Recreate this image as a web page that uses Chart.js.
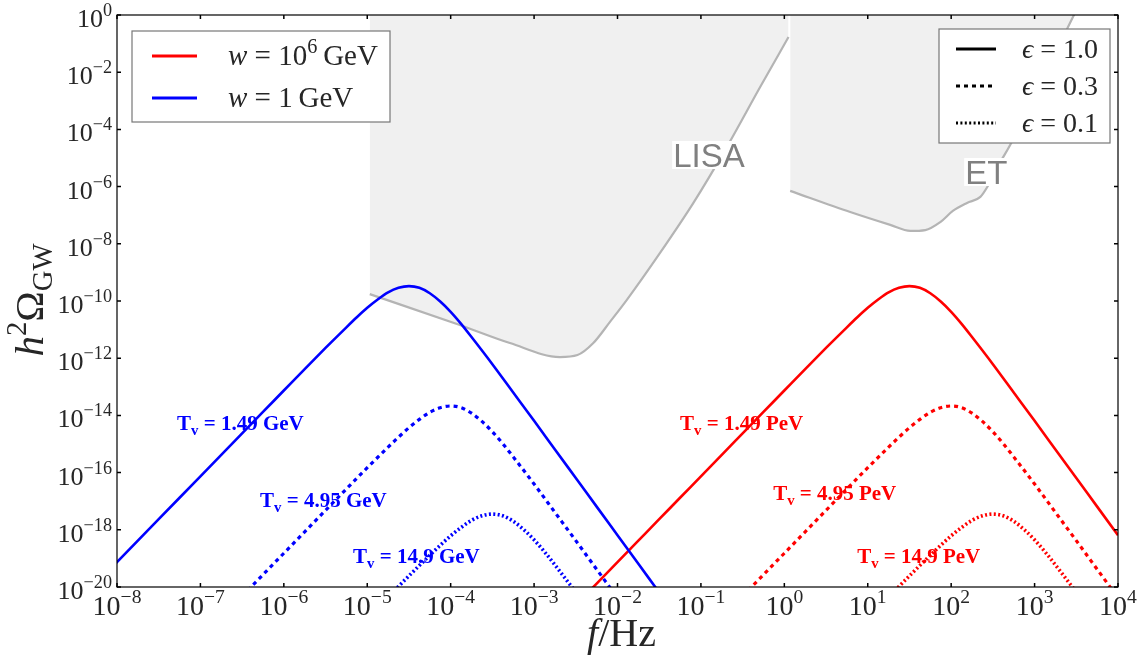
<!DOCTYPE html>
<html><head><meta charset="utf-8">
<script src="https://cdn.jsdelivr.net/npm/chart.js@4/dist/chart.umd.min.js"></script>
<style>html,body{margin:0;padding:0;background:#fff}#wrap{width:1138px;height:656px}</style>
</head><body><div id="wrap"><canvas id="c" width="1138" height="656"></canvas></div>
<script>
// ---- data: log10(f / Hz) and log10(h^2 Omega_GW) ----
// w = 1 GeV (blue)
const blueSolidLogF = [-8.25,-8.0,-7.75,-7.5,-7.25,-7.0,-6.75,-6.5,-6.25,-6.0,-5.75,-5.5,-5.25,-5.125,-5.0,-4.875,-4.75,-4.625,-4.5,-4.375,-4.25,-4.125,-4.0,-3.875,-3.75,-3.5,-3.25,-3.0,-2.75,-2.5,-2.25,-2.0,-1.75,-1.5];
const blueSolidLogOmega = [-19.88,-19.13,-18.38,-17.63,-16.88,-16.13,-15.38,-14.63,-13.88,-13.13,-12.38,-11.64,-10.92,-10.57,-10.24,-9.95,-9.70,-9.54,-9.48,-9.54,-9.73,-10.02,-10.38,-10.80,-11.26,-12.21,-13.20,-14.19,-15.19,-16.19,-17.19,-18.19,-19.19,-20.19];
const blueDashLogF = [-6.5,-6.25,-6.0,-5.75,-5.5,-5.25,-5.0,-4.75,-4.625,-4.5,-4.375,-4.25,-4.125,-4.0,-3.875,-3.75,-3.625,-3.5,-3.375,-3.25,-3.0,-2.75,-2.5,-2.25,-2.0];
const blueDashLogOmega = [-20.32,-19.57,-18.82,-18.07,-17.32,-16.57,-15.83,-15.11,-14.76,-14.43,-14.14,-13.89,-13.73,-13.67,-13.73,-13.92,-14.21,-14.57,-14.99,-15.45,-16.40,-17.39,-18.38,-19.38,-20.38];
const blueDotLogF = [-4.75,-4.5,-4.25,-4.125,-4.0,-3.875,-3.75,-3.625,-3.5,-3.375,-3.25,-3.125,-3.0,-2.875,-2.75,-2.5];
const blueDotLogOmega = [-20.35,-19.61,-18.89,-18.54,-18.21,-17.92,-17.67,-17.51,-17.45,-17.51,-17.70,-17.99,-18.35,-18.77,-19.23,-20.18];
// w = 10^6 GeV (red)
const redSolidLogF = [-2.5,-2.25,-2.0,-1.75,-1.5,-1.25,-1.0,-0.75,-0.5,-0.25,0,0.25,0.5,0.75,0.875,1.0,1.125,1.25,1.375,1.5,1.625,1.75,1.875,2.0,2.125,2.25,2.5,2.75,3.0,3.25,3.5,3.75,4.0,4.25];
const redSolidLogOmega = [-20.63,-19.88,-19.13,-18.38,-17.63,-16.88,-16.13,-15.38,-14.63,-13.88,-13.13,-12.38,-11.64,-10.92,-10.57,-10.24,-9.95,-9.70,-9.54,-9.48,-9.54,-9.73,-10.02,-10.38,-10.80,-11.26,-12.21,-13.20,-14.19,-15.19,-16.19,-17.19,-18.19,-19.19];
const redDashLogF = [-0.5,-0.25,0.0,0.25,0.5,0.75,1.0,1.25,1.375,1.5,1.625,1.75,1.875,2.0,2.125,2.25,2.375,2.5,2.625,2.75,3.0,3.25,3.5,3.75,4.0];
const redDashLogOmega = [-20.32,-19.57,-18.82,-18.07,-17.32,-16.57,-15.83,-15.11,-14.76,-14.43,-14.14,-13.89,-13.73,-13.67,-13.73,-13.92,-14.21,-14.57,-14.99,-15.45,-16.40,-17.39,-18.38,-19.38,-20.38];
const redDotLogF = [1.25,1.5,1.75,1.875,2.0,2.125,2.25,2.375,2.5,2.625,2.75,2.875,3.0,3.125,3.25,3.5];
const redDotLogOmega = [-20.35,-19.61,-18.89,-18.54,-18.21,-17.92,-17.67,-17.51,-17.45,-17.51,-17.70,-17.99,-18.35,-18.77,-19.23,-20.18];
// detector sensitivity boundaries
const lisaLogF = [-4.97,-3.89,-3.29,-2.69,-2.48,-2.29,-2.09,-1.89,-1.49,-1.09,-0.69,-0.29,0.05];
const lisaLogOmega = [-9.76,-10.84,-11.47,-11.96,-11.89,-11.47,-10.73,-9.97,-8.32,-6.57,-4.62,-2.52,-0.77];
const etLogF = [0.07,0.79,1.27,1.51,1.69,1.87,2.02,2.19,2.35,2.44,2.55,2.74,3.46,3.55];
const etLogOmega = [-6.15,-6.89,-7.34,-7.55,-7.52,-7.24,-6.85,-6.57,-6.36,-5.98,-5.35,-4.37,-0.07,0.45];
// ticks (exponents)
const xTickExponents = [-8,-7,-6,-5,-4,-3,-2,-1,0,1,2,3,4];
const yTickExponents = [0,-2,-4,-6,-8,-10,-12,-14,-16,-18,-20];
// legend entries and annotations
const massLegend = [['w','6','red'],['w','','blue']];
const epsLegend = ['1.0','0.3','0.1'];
const tvLabels = [
  {text:' = 1.49 GeV', color:'#0000ff', logF:-7.28, logO:-14.27},
  {text:' = 4.95 GeV', color:'#0000ff', logF:-6.285, logO:-16.96},
  {text:' = 14.9 GeV', color:'#0000ff', logF:-5.17, logO:-18.92},
  {text:' = 1.49 PeV', color:'#ff0000', logF:-1.25, logO:-14.27},
  {text:' = 4.95 PeV', color:'#ff0000', logF:-0.134, logO:-16.71},
  {text:' = 14.9 PeV', color:'#ff0000', logF:0.873, logO:-18.92}
];
const detectorLabels = [
  {text:'LISA', logF:-1.333, logO:-4.895},
  {text:'ET', logF:2.168, logO:-5.49}
];

const RED = '#ff0000', BLUE = '#0000ff', GRAYLINE = '#b4b4b4', GRAYFILL = '#f0f0f0';
const SERIF = '"Liberation Serif", "DejaVu Serif", serif';
const SANS = '"Liberation Sans", "DejaVu Sans", sans-serif';
const TEXT = '#262626';
const DASH_03 = [4, 4];
const DASH_01 = [2, 2.4];

function pts(lf, lo){ return lf.map((v,i)=>({x: Math.pow(10, v), y: Math.pow(10, lo[i])})); }
function curve(lf, lo, color, dash, width){
  return {data: pts(lf, lo), borderColor: color, borderWidth: width, borderDash: dash,
    fill: false, pointRadius: 0, cubicInterpolationMode: 'monotone', order: 1};
}
function region(lf, lo){
  return {data: pts(lf, lo), borderColor: GRAYLINE, borderWidth: 2.2, backgroundColor: GRAYFILL,
    fill: 'end', pointRadius: 0, cubicInterpolationMode: 'monotone', order: 10};
}

function segFont(s, size){
  const sz = (s.sup || s.sub) ? size * 0.7 : size;
  return (s.italic ? 'italic ' : '') + (s.bold ? 'bold ' : '') + sz.toFixed(1) + 'px ' + (s.family || SERIF);
}
function richWidth(ctx, segs, size){
  let w = 0;
  for (const s of segs){ ctx.font = segFont(s, size); w += ctx.measureText(s.t).width; }
  return w;
}
function drawRich(ctx, segs, x, y, size, align, color){
  const w = richWidth(ctx, segs, size);
  let cx = align === 'center' ? x - w/2 : (align === 'right' ? x - w : x);
  ctx.textAlign = 'left'; ctx.textBaseline = 'alphabetic'; ctx.fillStyle = color;
  for (const s of segs){
    ctx.font = segFont(s, size);
    const dy = s.sup ? -size*0.42 : (s.sub ? size*0.22 : 0);
    ctx.fillText(s.t, cx, y + dy);
    cx += ctx.measureText(s.t).width;
  }
  return w;
}
function expText(e){ return e < 0 ? '\u2212' + (-e) : String(e); }

const decor = {
  id: 'decor',
  afterDraw(chart){
    const ctx = chart.ctx, ca = chart.chartArea, xs = chart.scales.x, ys = chart.scales.y;
    ctx.save();
    // detector labels with white box
    for (const d of detectorLabels){
      const px = xs.getPixelForValue(Math.pow(10, d.logF)), py = ys.getPixelForValue(Math.pow(10, d.logO));
      ctx.font = '33px ' + SANS;
      const w = ctx.measureText(d.text).width;
      ctx.fillStyle = '#ffffff';
      ctx.fillRect(px - 1, py - 14, w + 2, 28);
      ctx.fillStyle = '#808080'; ctx.textAlign = 'left'; ctx.textBaseline = 'alphabetic';
      ctx.fillText(d.text, px, py + 12);
    }
    // frame
    ctx.strokeStyle = '#000'; ctx.lineWidth = 1.2;
    ctx.strokeRect(ca.left, ca.top, ca.right - ca.left, ca.bottom - ca.top);
    // ticks (inward) and tick labels
    ctx.lineWidth = 1.5;
    for (const e of xTickExponents){
      const px = xs.getPixelForValue(Math.pow(10, e));
      ctx.strokeStyle = '#000';
      ctx.beginPath(); ctx.moveTo(px, ca.bottom); ctx.lineTo(px, ca.bottom - 4);
      ctx.moveTo(px, ca.top); ctx.lineTo(px, ca.top + 4); ctx.stroke();
      drawRich(ctx, [{t:'10'},{t:expText(e), sup:true}], px, ca.bottom + 28, 28, 'center', TEXT);
    }
    for (const e of yTickExponents){
      const py = ys.getPixelForValue(Math.pow(10, e));
      ctx.strokeStyle = '#000';
      ctx.beginPath(); ctx.moveTo(ca.left, py); ctx.lineTo(ca.left + 4, py);
      ctx.moveTo(ca.right, py); ctx.lineTo(ca.right - 4, py); ctx.stroke();
      drawRich(ctx, [{t:'10'},{t:expText(e), sup:true}], ca.left - 5, py + 12, 26, 'right', TEXT);
    }
    // axis titles
    drawRich(ctx, [{t:'f', italic:true},{t:'/Hz'}], (ca.left + ca.right)/2 + 4, 646, 40, 'center', TEXT);
    ctx.save(); ctx.translate(43, 300); ctx.rotate(-Math.PI/2);
    drawRich(ctx, [{t:'h', italic:true},{t:'2', sup:true},{t:'\u03A9'},{t:'GW', sub:true}], 0, 0, 41, 'center', TEXT);
    ctx.restore();
    // T_v annotations
    for (const a of tvLabels){
      const px = xs.getPixelForValue(Math.pow(10, a.logF)), py = ys.getPixelForValue(Math.pow(10, a.logO));
      drawRich(ctx, [{t:'T', bold:true},{t:'v', bold:true, sub:true},{t:a.text, bold:true}], px, py + 7, 21, 'left', a.color);
    }
    // legend: w
    let bx = ca.left + 15, by = ca.top + 16;
    ctx.fillStyle = '#fff'; ctx.fillRect(bx, by, 258, 91);
    ctx.strokeStyle = '#777'; ctx.lineWidth = 1.2; ctx.strokeRect(bx, by, 258, 91);
    massLegend.forEach((m, i) => {
      const ry = by + 25 + i*42;
      ctx.strokeStyle = m[2] === 'red' ? RED : BLUE; ctx.lineWidth = 3; ctx.setLineDash([]);
      ctx.beginPath(); ctx.moveTo(bx + 20, ry); ctx.lineTo(bx + 65, ry); ctx.stroke();
      const segs = [{t:'w', italic:true},{t:' = '},{t: m[1] ? '10' : '1'}];
      if (m[1]) segs.push({t:m[1], sup:true});
      segs.push({t:'\u2009GeV'});
      drawRich(ctx, segs, bx + 96, ry + 9, 29, 'left', TEXT);
    });
    // legend: epsilon
    bx = ca.right - 179; by = ca.top + 14;
    ctx.fillStyle = '#fff'; ctx.fillRect(bx, by, 171, 114);
    ctx.strokeStyle = '#777'; ctx.lineWidth = 1.2; ctx.strokeRect(bx, by, 171, 114);
    const dashes = [[], DASH_03, DASH_01];
    epsLegend.forEach((v, i) => {
      const ry = by + 20 + i*37;
      ctx.strokeStyle = '#000'; ctx.lineWidth = i === 0 ? 3 : 3.2; ctx.setLineDash(dashes[i]);
      ctx.beginPath(); ctx.moveTo(bx + 17, ry); ctx.lineTo(bx + 57, ry); ctx.stroke();
      ctx.setLineDash([]);
      drawRich(ctx, [{t:'\u03F5', italic:true},{t:' = ' + v}], bx + 83, ry + 9, 28, 'left', TEXT);
    });
    ctx.restore();
  }
};

new Chart(document.getElementById('c'), {
  type: 'line',
  data: { datasets: [
    curve(blueSolidLogF, blueSolidLogOmega, BLUE, [], 2.6),
    curve(blueDashLogF, blueDashLogOmega, BLUE, DASH_03, 3.2),
    curve(blueDotLogF, blueDotLogOmega, BLUE, DASH_01, 3.6),
    curve(redSolidLogF, redSolidLogOmega, RED, [], 2.6),
    curve(redDashLogF, redDashLogOmega, RED, DASH_03, 3.2),
    curve(redDotLogF, redDotLogOmega, RED, DASH_01, 3.6),
    region(lisaLogF, lisaLogOmega),
    region(etLogF, etLogOmega)
  ]},
  options: {
    responsive: false, animation: false, devicePixelRatio: 1,
    layout: { padding: { top: 15, right: 20, left: 0, bottom: 0 } },
    plugins: { legend: { display: false }, tooltip: { enabled: false } },
    scales: {
      x: { type: 'logarithmic', min: 1e-8, max: 1e4,
           grid: { display: false }, border: { display: false }, ticks: { display: false },
           afterFit: s => { s.height = 69; } },
      y: { type: 'logarithmic', min: 1e-20, max: 1,
           grid: { display: false }, border: { display: false }, ticks: { display: false },
           afterFit: s => { s.width = 117; } }
    }
  },
  plugins: [decor]
});
</script></body></html>
